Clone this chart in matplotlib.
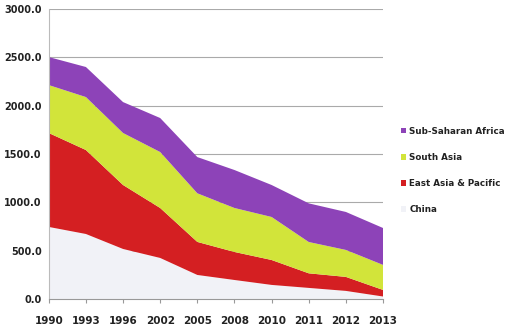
import numpy as np
import matplotlib.pyplot as plt

# years are categories, evenly spaced
years = ['1990', '1993', '1996', '2002', '2005', '2008', '2010', '2011', '2012', '2013']
china = [745, 672, 517, 424, 248, 196, 145, 114, 83, 25]
east_asia = [972, 869, 662, 517, 342, 290, 258, 151, 145, 68]
south_asia = [496, 548, 538, 579, 503, 455, 445, 324, 279, 259]
ssa = [290, 311, 320, 352, 375, 393, 331, 400, 393, 382]

colors = ['#f1f2f7', '#d41f22', '#d2e43a', '#8d43b8']
labels = ['China', 'East Asia & Pacific', 'South Asia', 'Sub-Saharan Africa']

plt.rcParams['font.family'] = ['DejaVu Sans']

fig = plt.figure(figsize=(5.08, 3.34), dpi=100)
ax = fig.add_axes([0.096, 0.105, 0.658, 0.868])

x = np.arange(len(years))
polys = ax.stackplot(x, china, east_asia, south_asia, ssa, colors=colors, labels=labels)

ax.set_xlim(0, len(years) - 1)
ax.set_ylim(0, 3000)
ax.set_yticks(np.arange(0, 3001, 500))
ax.set_yticklabels(['%.1f' % v for v in np.arange(0, 3001, 500)], fontsize=7,
                   fontweight='bold', color='#222222')
ax.set_xticks(x)
ax.set_xticklabels(years, fontsize=7.5, fontweight='bold', color='#222222')
ax.tick_params(axis='x', length=3, pad=9, color='#999999')
ax.tick_params(axis='y', length=0, pad=5)
ax.grid(axis='y', color='#aaaaaa', linewidth=0.8)
ax.set_axisbelow(True)
for s in ['top', 'right']:
    ax.spines[s].set_visible(False)
ax.spines['left'].set_color('#bbbbbb')
ax.spines['bottom'].set_color('#999999')

handles, labs = ax.get_legend_handles_labels()
leg = fig.legend(handles[::-1], labs[::-1], loc='center left', bbox_to_anchor=(0.773, 0.49),
                 frameon=False, fontsize=6.3, handlelength=0.6, handleheight=0.6,
                 labelspacing=1.95, handletextpad=0.4)
for t in leg.get_texts():
    t.set_fontweight('bold')
    t.set_color('#222222')

fig.savefig('out.png', dpi=100)
